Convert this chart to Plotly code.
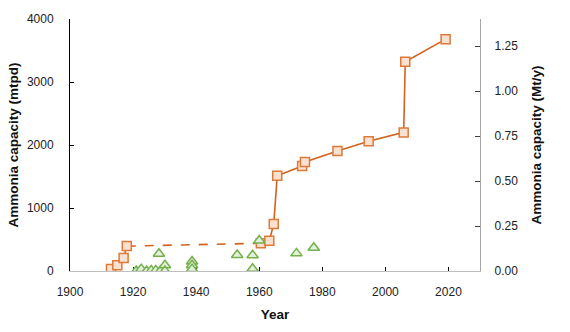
import plotly.graph_objects as go

# Orange series: plant capacity milestones (mtpd)
orange_years = [1913, 1915, 1917, 1918, 1960.5, 1963.2, 1964.6, 1965.7, 1973.6, 1974.5, 1984.8, 1994.7, 2005.8, 2006.3, 2019.1]
orange_vals = [30, 90, 205, 395, 440, 480, 745, 1510, 1665, 1730, 1905, 2060, 2200, 3320, 3680]

# Green series: other plants (mtpd)
green_years = [1921, 1922.6, 1924.3, 1925.8, 1927.2, 1928.2, 1928.7, 1930.1, 1930.1,
               1938.7, 1938.7, 1938.7, 1953, 1957.9, 1957.9, 1960, 1971.8, 1977.3]
green_vals = [0, 30, 0, 10, 10, 275, 5, 90, 0,
              150, 90, 30, 255, 250, 35, 485, 280, 370]

right_ticks = [0, 0.25, 0.5, 0.75, 1.0, 1.25]

ORANGE_LINE = "#D2621E"
ORANGE_EDGE = "#DD7A3A"
ORANGE_FILL = "#FBE2D0"
GREEN_EDGE = "#74B04C"
GREEN_FILL = "#E4F1DA"

fig = go.Figure()

# solid segment 1913-1918
fig.add_trace(go.Scatter(x=orange_years[0:4], y=orange_vals[0:4], mode="lines",
                         line=dict(color=ORANGE_LINE, width=1.6), showlegend=False, hoverinfo="skip"))
# dashed segment 1918-1960
fig.add_trace(go.Scatter(x=orange_years[3:5], y=orange_vals[3:5], mode="lines",
                         line=dict(color=ORANGE_LINE, width=1.6, dash="dash"), showlegend=False, hoverinfo="skip"))
# solid segment 1960 onwards
fig.add_trace(go.Scatter(x=orange_years[4:], y=orange_vals[4:], mode="lines",
                         line=dict(color=ORANGE_LINE, width=1.6), showlegend=False, hoverinfo="skip"))
# orange markers
fig.add_trace(go.Scatter(x=orange_years, y=orange_vals, mode="markers",
                         marker=dict(symbol="square", size=9, color=ORANGE_FILL,
                                     line=dict(color=ORANGE_EDGE, width=1.5)),
                         showlegend=False))
# green triangles
fig.add_trace(go.Scatter(x=green_years, y=green_vals, mode="markers",
                         marker=dict(symbol="triangle-up", size=10, color=GREEN_FILL,
                                     line=dict(color=GREEN_EDGE, width=1.5)),
                         showlegend=False))
# invisible trace for secondary axis
fig.add_trace(go.Scatter(x=[1900], y=[0], yaxis="y2", mode="markers",
                         marker=dict(opacity=0), showlegend=False, hoverinfo="skip"))

FONT = "Liberation Sans"
fig.update_layout(
    width=570, height=332,
    margin=dict(l=68, r=90, t=13, b=60),
    paper_bgcolor="white", plot_bgcolor="white",
    font=dict(family=FONT, size=12, color="#222222"),
    xaxis=dict(range=[1900, 2030], tickvals=[1900, 1920, 1940, 1960, 1980, 2000, 2020],
               ticks="inside", ticklen=4, tickcolor="#000000", tickwidth=1,
               showline=True, linecolor="#BFBFBF", linewidth=1.3, showgrid=False, zeroline=False,
               layer="below traces", ticklabelstandoff=9,
               title=dict(text="<b>Year</b>", font=dict(size=13.5, color="#111111"), standoff=12),
               tickfont=dict(size=12)),
    yaxis=dict(range=[0, 4000], tickvals=[0, 1000, 2000, 3000, 4000],
               ticks="inside", ticklen=4, tickcolor="#000000",
               showline=True, linecolor="#000000", linewidth=1, showgrid=False, zeroline=False,
               ticklabelstandoff=13,
               title=dict(text="<b>Ammonia capacity (mtpd)</b>", font=dict(size=13.5, color="#111111"), standoff=5),
               tickfont=dict(size=12)),
    yaxis2=dict(range=[0, 1.4], tickvals=right_ticks, ticktext=[f"{v:.2f}" for v in right_ticks],
                overlaying="y", side="right", anchor="x",
                ticks="inside", ticklen=5, tickcolor="#404040",
                showline=True, linecolor="#A6A6A6", linewidth=1.3, showgrid=False, zeroline=False,
                ticklabelstandoff=11,
                title=dict(text="<b>Ammonia capacity (Mt/y)</b>", font=dict(size=13.5, color="#111111"), standoff=14),
                tickfont=dict(size=12)),
)

fig.write_html("out.html")
